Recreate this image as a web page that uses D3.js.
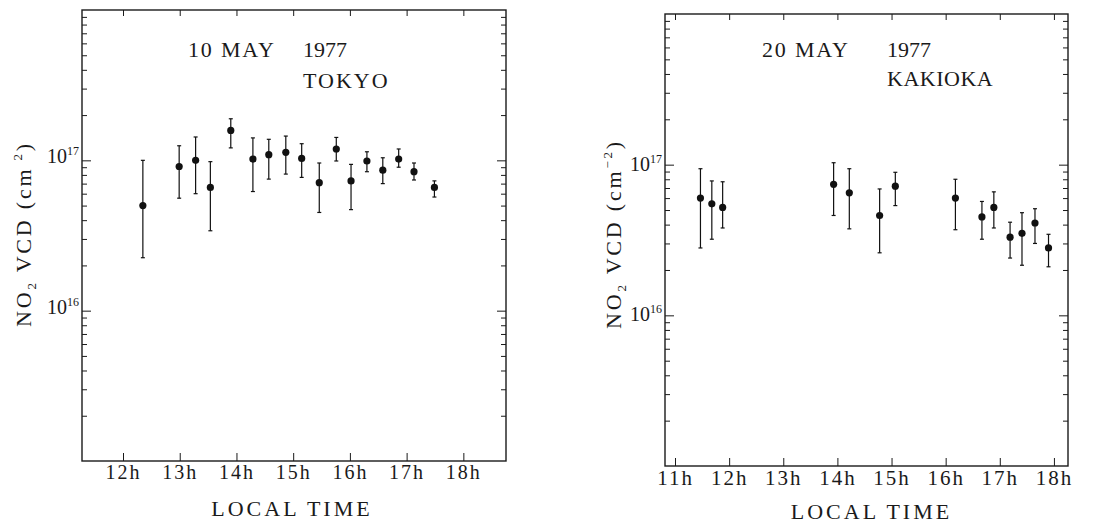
<!DOCTYPE html>
<html>
<head>
<meta charset="utf-8">
<script src="https://cdn.jsdelivr.net/npm/d3@7"></script>
<style>
  body { margin: 0; background: #fff; }
  svg { display: block; font-family: "Liberation Serif", "DejaVu Serif", serif; }
  .frame { fill: none; stroke: #1a1a1a; stroke-width: 1.4; }
  .tick-line { stroke: #1a1a1a; stroke-width: 1; }
  .err { stroke: #111; stroke-width: 1.2; }
  .dot { fill: #111; }
  text { fill: #1a1a1a; }
</style>
</head>
<body>
<svg id="chart" width="1106" height="523"></svg>
<script>
// TOKYO, 10 May 1977
const tokyoTime = [12.35, 12.99, 13.28, 13.54, 13.90, 14.29, 14.57, 14.87, 15.15, 15.46, 15.76, 16.02, 16.30, 16.58, 16.86, 17.13, 17.49];
const tokyoVcd  = [5.0e16, 9.1e16, 1.0e17, 6.6e16, 1.58e17, 1.02e17, 1.09e17, 1.13e17, 1.03e17, 7.1e16, 1.19e17, 7.3e16, 9.9e16, 8.6e16, 1.02e17, 8.4e16, 6.6e16];
const tokyoHigh = [1.0e17, 1.25e17, 1.43e17, 9.8e16, 1.89e17, 1.41e17, 1.38e17, 1.45e17, 1.29e17, 9.6e16, 1.42e17, 9.4e16, 1.14e17, 1.04e17, 1.19e17, 9.6e16, 7.3e16];
const tokyoLow  = [2.25e16, 5.6e16, 6.0e16, 3.4e16, 1.21e17, 6.2e16, 7.5e16, 8.1e16, 7.7e16, 4.5e16, 9.9e16, 4.7e16, 8.4e16, 7.0e16, 9.0e16, 7.4e16, 5.7e16];

// KAKIOKA, 20 May 1977
const kakiokaTime = [11.47, 11.68, 11.88, 13.93, 14.22, 14.78, 15.07, 16.18, 16.67, 16.89, 17.19, 17.41, 17.65, 17.90];
const kakiokaVcd  = [6.0e16, 5.5e16, 5.2e16, 7.4e16, 6.5e16, 4.6e16, 7.2e16, 6.0e16, 4.5e16, 5.2e16, 3.3e16, 3.5e16, 4.1e16, 2.8e16];
const kakiokaHigh = [9.4e16, 7.8e16, 7.7e16, 1.03e17, 9.4e16, 6.9e16, 8.9e16, 8.0e16, 5.7e16, 6.6e16, 4.15e16, 4.8e16, 5.1e16, 3.45e16];
const kakiokaLow  = [2.8e16, 3.2e16, 3.8e16, 4.6e16, 3.75e16, 2.6e16, 5.35e16, 3.7e16, 3.2e16, 3.8e16, 2.4e16, 2.15e16, 3.0e16, 2.1e16];

const tokyoHours = [12, 13, 14, 15, 16, 17, 18];
const kakiokaHours = [11, 12, 13, 14, 15, 16, 17, 18];
const yDomain = [1e15, 1e18];
const yLabelExps = [16, 17];

const svg = d3.select("#chart");

/**
 * Draw one panel: frame, inward ticks on all four sides, labels, error bars.
 */
function drawPanel(p) {
    const x = d3.scaleLinear().domain(p.xDomain).range([p.left, p.right]);
    const y = d3.scaleLog().domain(yDomain).range([p.bottom, p.top]);
    const g = svg.append("g");

    const isMajor = d => Math.abs(Math.log10(d) - Math.round(Math.log10(d))) < 1e-9;
    const yTicks = y.ticks().filter(d => d > yDomain[0] && d < yDomain[1]);

    // left + right log ticks, pointing inward
    g.append("g").attr("transform", `translate(${p.left},0)`)
        .call(d3.axisLeft(y).tickValues(yTicks).tickFormat("")
            .tickSizeInner(0).tickSizeOuter(0))
        .call(a => a.select(".domain").remove())
        .selectAll(".tick line").attr("class", "tick-line")
        .attr("x2", d => isMajor(d) ? 9 : 5);
    g.append("g").attr("transform", `translate(${p.right},0)`)
        .call(d3.axisRight(y).tickValues(yTicks).tickFormat("")
            .tickSizeInner(0).tickSizeOuter(0))
        .call(a => a.select(".domain").remove())
        .selectAll(".tick line").attr("class", "tick-line")
        .attr("x2", d => isMajor(d) ? -9 : -5);

    // bottom hour ticks with labels, top hour ticks
    const bottom = g.append("g").attr("transform", `translate(0,${p.bottom})`)
        .call(d3.axisBottom(x).tickValues(p.hours).tickSizeInner(-8).tickSizeOuter(0)
            .tickPadding(3).tickFormat(d => d + "h"));
    bottom.select(".domain").remove();
    bottom.selectAll(".tick line").attr("class", "tick-line");
    bottom.selectAll(".tick text")
        .attr("font-size", p.tickFont).attr("letter-spacing", 2)
        .attr("fill", "#1a1a1a").attr("font-family", "Liberation Serif, DejaVu Serif, serif")
        .attr("dy", "0.76em");

    g.append("g").attr("transform", `translate(0,${p.top})`)
        .call(d3.axisTop(x).tickValues(p.hours).tickSizeInner(-6).tickSizeOuter(0).tickFormat(""))
        .call(a => a.select(".domain").remove())
        .selectAll(".tick line").attr("class", "tick-line");

    // frame
    g.append("rect").attr("class", "frame")
        .attr("x", p.left).attr("y", p.top)
        .attr("width", p.right - p.left).attr("height", p.bottom - p.top);

    // y tick labels 10^16, 10^17
    const yl = g.selectAll("text.ylab").data(yLabelExps).enter().append("text")
        .attr("class", "ylab")
        .attr("text-anchor", "end")
        .attr("x", p.left - 3)
        .attr("y", d => y(Math.pow(10, d)) + p.labelDrop)
        .attr("font-size", 20);
    yl.append("tspan").text("10");
    yl.append("tspan").attr("dy", -8).attr("font-size", 12).text(d => d);

    // axis titles
    g.append("text")
        .attr("x", (p.left + p.right) / 2 + p.xTitleShift)
        .attr("y", p.bottom + p.xTitleDrop)
        .attr("text-anchor", "middle")
        .attr("font-size", 22).attr("letter-spacing", 3)
        .text("LOCAL TIME");

    const yt = g.append("text")
        .attr("transform", `translate(${p.yTitleX},${p.yTitleY}) rotate(-90)`)
        .attr("text-anchor", "middle")
        .attr("font-size", 22).attr("letter-spacing", 2.8);
    yt.append("tspan").text("NO");
    yt.append("tspan").attr("dy", 5).attr("font-size", 13).text("2");
    yt.append("tspan").attr("dy", -5).text(" VCD  (cm");
    yt.append("tspan").attr("dy", -9).attr("font-size", 13).text(p.cmExp);
    yt.append("tspan").attr("dy", 9).text(")");

    // panel titles
    const tf = 22;
    g.append("text").attr("x", p.t1x).attr("y", p.t1y).attr("font-size", tf)
        .attr("letter-spacing", 1.8).text(p.date);
    g.append("text").attr("x", p.t2x).attr("y", p.t1y).attr("font-size", tf)
        .attr("letter-spacing", 0).text(p.year);
    g.append("text").attr("x", p.t2x).attr("y", p.t2y).attr("font-size", tf)
        .attr("letter-spacing", p.placeSpacing).text(p.place);

    // error bars and points
    const rows = p.time.map((t, i) => ({ t, v: p.vcd[i], lo: p.low[i], hi: p.high[i] }));
    const pts = g.selectAll("g.pt").data(rows).enter().append("g").attr("class", "pt");
    pts.append("line").attr("class", "err")
        .attr("x1", d => x(d.t)).attr("x2", d => x(d.t))
        .attr("y1", d => y(d.lo)).attr("y2", d => y(d.hi));
    pts.append("line").attr("class", "err")
        .attr("x1", d => x(d.t) - 2).attr("x2", d => x(d.t) + 2)
        .attr("y1", d => y(d.hi)).attr("y2", d => y(d.hi));
    pts.append("line").attr("class", "err")
        .attr("x1", d => x(d.t) - 2).attr("x2", d => x(d.t) + 2)
        .attr("y1", d => y(d.lo)).attr("y2", d => y(d.lo));
    pts.append("circle").attr("class", "dot")
        .attr("cx", d => x(d.t)).attr("cy", d => y(d.v)).attr("r", 3.6);
}

drawPanel({
    left: 82, right: 506, top: 10, bottom: 461,
    xDomain: [11.277, 18.752], hours: tokyoHours,
    time: tokyoTime, vcd: tokyoVcd, low: tokyoLow, high: tokyoHigh,
    date: "10 MAY", year: "1977", place: "TOKYO", placeSpacing: 2,
    t1x: 188, t2x: 303, t1y: 57, t2y: 88,
    yTitleX: 31, yTitleY: 234, cmExp: " 2", labelDrop: 3, xTitleShift: -2,
    xTitleDrop: 55, tickFont: 20
});

drawPanel({
    left: 665, right: 1068, top: 14, bottom: 466,
    xDomain: [10.815, 18.26], hours: kakiokaHours,
    time: kakiokaTime, vcd: kakiokaVcd, low: kakiokaLow, high: kakiokaHigh,
    date: "20 MAY", year: "1977", place: "KAKIOKA", placeSpacing: 0.5,
    t1x: 762, t2x: 887, t1y: 57, t2y: 86,
    yTitleX: 621, yTitleY: 234, cmExp: "−2", labelDrop: 6, xTitleShift: 5,
    xTitleDrop: 53, tickFont: 21
});
</script>
</body>
</html>
